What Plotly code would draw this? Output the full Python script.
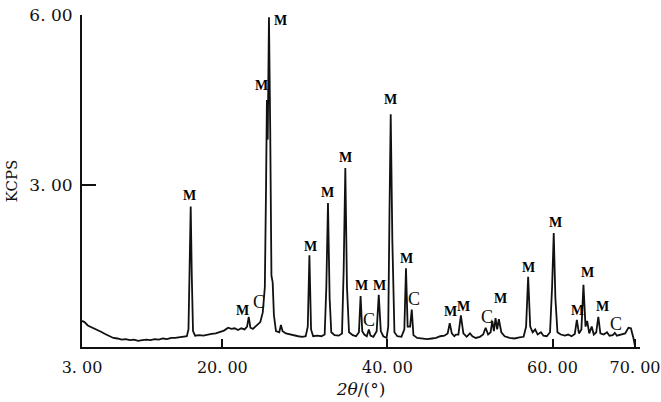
import plotly.graph_objects as go

# XRD pattern: 2-theta (deg) and intensity (KCPS)
two_theta = [
    3.0, 3.3, 3.7, 4.2, 4.8, 5.3, 5.8, 6.3, 6.8, 7.3, 7.8, 8.3, 8.8, 9.3, 9.8,
    10.3, 10.8, 11.3, 11.8, 12.3, 12.8, 13.3, 13.8, 14.3, 14.8, 15.3, 15.7,
    15.9, 16.05, 16.17, 16.3, 16.45, 16.7, 17.2, 17.7, 18.2, 18.7, 19.2, 19.7,
    20.2, 20.7, 21.1, 21.5, 21.9, 22.3, 22.7, 23.0, 23.2, 23.4, 23.7, 24.0,
    24.3, 24.6, 24.9, 25.15, 25.3, 25.4, 25.5, 25.65, 25.8, 25.95, 26.1,
    26.25, 26.5, 26.9, 27.1, 27.3, 27.7, 28.2, 28.7, 29.2, 29.7, 30.1, 30.35,
    30.55, 30.75, 31.0, 31.5, 32.0, 32.4, 32.6, 32.8, 33.0, 33.2, 33.6, 34.1,
    34.5, 34.7, 34.9, 35.1, 35.35, 35.8, 36.2, 36.55, 36.75, 36.95, 37.2,
    37.5, 37.75, 37.95, 38.3, 38.7, 38.95, 39.2, 39.5, 39.9, 40.1, 40.25,
    40.4, 40.6, 40.85, 41.2, 41.7, 42.05, 42.25, 42.45, 42.75, 42.95, 43.15,
    43.6, 44.2, 44.8, 45.4, 45.9, 46.4, 46.9, 47.3, 47.55, 47.8, 48.1, 48.3,
    48.6, 48.9, 49.2, 49.6, 50.0, 50.3, 50.7, 51.2, 51.6, 51.9, 52.2, 52.5,
    52.7, 52.9, 53.1, 53.3, 53.5, 53.8, 54.2, 54.8, 55.4, 56.0, 56.5, 56.8,
    57.05, 57.3, 57.6, 57.9, 58.2, 58.6, 58.9, 59.3, 59.7, 59.95, 60.15,
    60.35, 60.6, 61.0, 61.5, 61.9, 62.3, 62.7, 62.95, 63.2, 63.5, 63.75,
    64.0, 64.2, 64.45, 64.75, 65.0, 65.3, 65.55, 65.8, 66.2, 66.6, 66.9,
    67.3, 67.55, 67.8, 68.3, 68.8, 69.2, 69.5, 69.8, 70.0,
]
kcps = [
    0.60, 0.58, 0.52, 0.49, 0.44, 0.41, 0.37, 0.33, 0.30, 0.29, 0.27, 0.28,
    0.26, 0.27, 0.25, 0.26, 0.27, 0.26, 0.28, 0.27, 0.29, 0.28, 0.30, 0.30,
    0.31, 0.32, 0.33,
    0.45, 1.60, 2.62, 1.40, 0.42, 0.34, 0.35, 0.34, 0.36, 0.37, 0.38, 0.40,
    0.43, 0.48, 0.46, 0.47, 0.44, 0.47, 0.45, 0.50, 0.67, 0.48, 0.46, 0.50,
    0.55, 0.58, 0.75, 1.20, 3.00, 4.50, 3.80, 5.96, 4.00, 1.40, 1.28,
    0.70, 0.42, 0.40, 0.53, 0.42, 0.38, 0.36, 0.35, 0.33, 0.32, 0.33, 0.50,
    1.76, 0.45, 0.33, 0.34, 0.33, 0.36, 1.20, 2.68, 1.00, 0.40, 0.35, 0.34,
    0.38, 1.50, 3.30, 1.20, 0.40, 0.35, 0.33, 0.40, 1.04, 0.42, 0.36,
    0.33, 0.45, 0.34, 0.32, 0.42, 1.06, 0.42, 0.33, 0.30, 0.50, 2.50,
    4.25, 2.00, 0.40, 0.33, 0.32, 0.45, 1.53, 0.50, 0.50, 0.80, 0.35,
    0.30, 0.29, 0.28, 0.29, 0.30, 0.33, 0.34, 0.38, 0.56, 0.38, 0.33, 0.36,
    0.36, 0.70, 0.38, 0.32, 0.38, 0.33, 0.30, 0.32, 0.36, 0.48, 0.36, 0.40,
    0.60, 0.42, 0.65, 0.45, 0.63, 0.40, 0.33, 0.30, 0.29, 0.31, 0.32, 0.50,
    1.38, 0.50, 0.40, 0.45, 0.36, 0.40, 0.34, 0.33, 0.40, 1.20, 2.15,
    1.00, 0.40, 0.36, 0.34, 0.36, 0.33, 0.37, 0.62, 0.38, 0.45, 1.24,
    0.50, 0.60, 0.38, 0.50, 0.36, 0.40, 0.67, 0.38, 0.36, 0.40, 0.34,
    0.35, 0.39, 0.34, 0.36, 0.38, 0.48, 0.47, 0.30, 0.15,
]

# Phase labels (M / C) above the peaks
label_text = ["M", "M", "C", "M", "M", "M", "M", "M", "M", "C", "M", "M", "M",
              "C", "M", "M", "C", "M", "M", "M", "M", "M", "M", "C"]
label_x = [15.97, 22.4, 24.45, 24.7, 27.0, 30.64, 32.8, 34.9, 36.8, 37.8, 39.0,
           40.33, 42.27, 43.24, 47.7, 49.2, 52.1, 53.7, 57.06, 60.33, 63.0,
           64.2, 66.0, 67.7]
label_y = [2.82, 0.79, 0.94, 4.76, 5.91, 1.92, 2.86, 3.48, 1.22, 0.62, 1.22,
           4.50, 1.71, 0.99, 0.76, 0.85, 0.67, 1.00, 1.55, 2.33, 0.79, 1.46,
           0.86, 0.55]

x_tick_vals = [3, 20, 40, 60, 70]
x_tick_text = ["3. 00", "20. 00", "40. 00", "60. 00", "70. 00"]
y_tick_vals = [3, 6]
y_tick_text = ["3. 00", "6. 00"]

fig = go.Figure()
fig.add_trace(go.Scatter(
    x=two_theta, y=kcps, mode="lines",
    line=dict(color="#111111", width=1.8),
    hoverinfo="skip", showlegend=False,
))

annotations = []
for t, x, y in zip(label_text, label_x, label_y):
    if t == "M":
        f = dict(family="Liberation Serif", size=14, color="#000000")
        txt = "<b>M</b>"
    else:
        f = dict(family="Liberation Serif", size=18, color="#111111")
        txt = "C"
    annotations.append(dict(x=x, y=y, xref="x", yref="y", text=txt,
                            showarrow=False, font=f,
                            xanchor="center", yanchor="middle"))

fig.update_layout(
    width=661, height=402,
    margin=dict(l=82, r=21, t=15, b=55),
    paper_bgcolor="white", plot_bgcolor="white",
    annotations=annotations,
    font=dict(family="DejaVu Serif", color="#111111"),
)
fig.update_xaxes(
    range=[3, 70.6], showgrid=False, zeroline=False, automargin=False,
    showline=True, linecolor="#111111", linewidth=2,
    ticks="inside", ticklen=8, tickwidth=1.5, tickcolor="#111111",
    tickvals=x_tick_vals, ticktext=x_tick_text, ticklabelstandoff=5,
    tickfont=dict(family="DejaVu Serif", size=16, color="#111111"),
    title=dict(text="<i>2θ</i>/(°)", standoff=7,
               font=dict(family="DejaVu Serif", size=17, color="#111111")),
)
fig.update_yaxes(
    range=[0.14, 6.0], showgrid=False, zeroline=False, automargin=False,
    showline=True, linecolor="#111111", linewidth=2,
    ticks="inside", ticklen=14, tickwidth=2, tickcolor="#111111",
    tickvals=y_tick_vals, ticktext=y_tick_text, ticklabelstandoff=4,
    tickfont=dict(family="DejaVu Serif", size=17, color="#111111"),
    title=dict(text="KCPS", standoff=8,
               font=dict(family="DejaVu Serif", size=15, color="#111111")),
)

fig.write_html("out.html", config={"displayModeBar": False},
               post_script="document.body.style.margin='0';")
